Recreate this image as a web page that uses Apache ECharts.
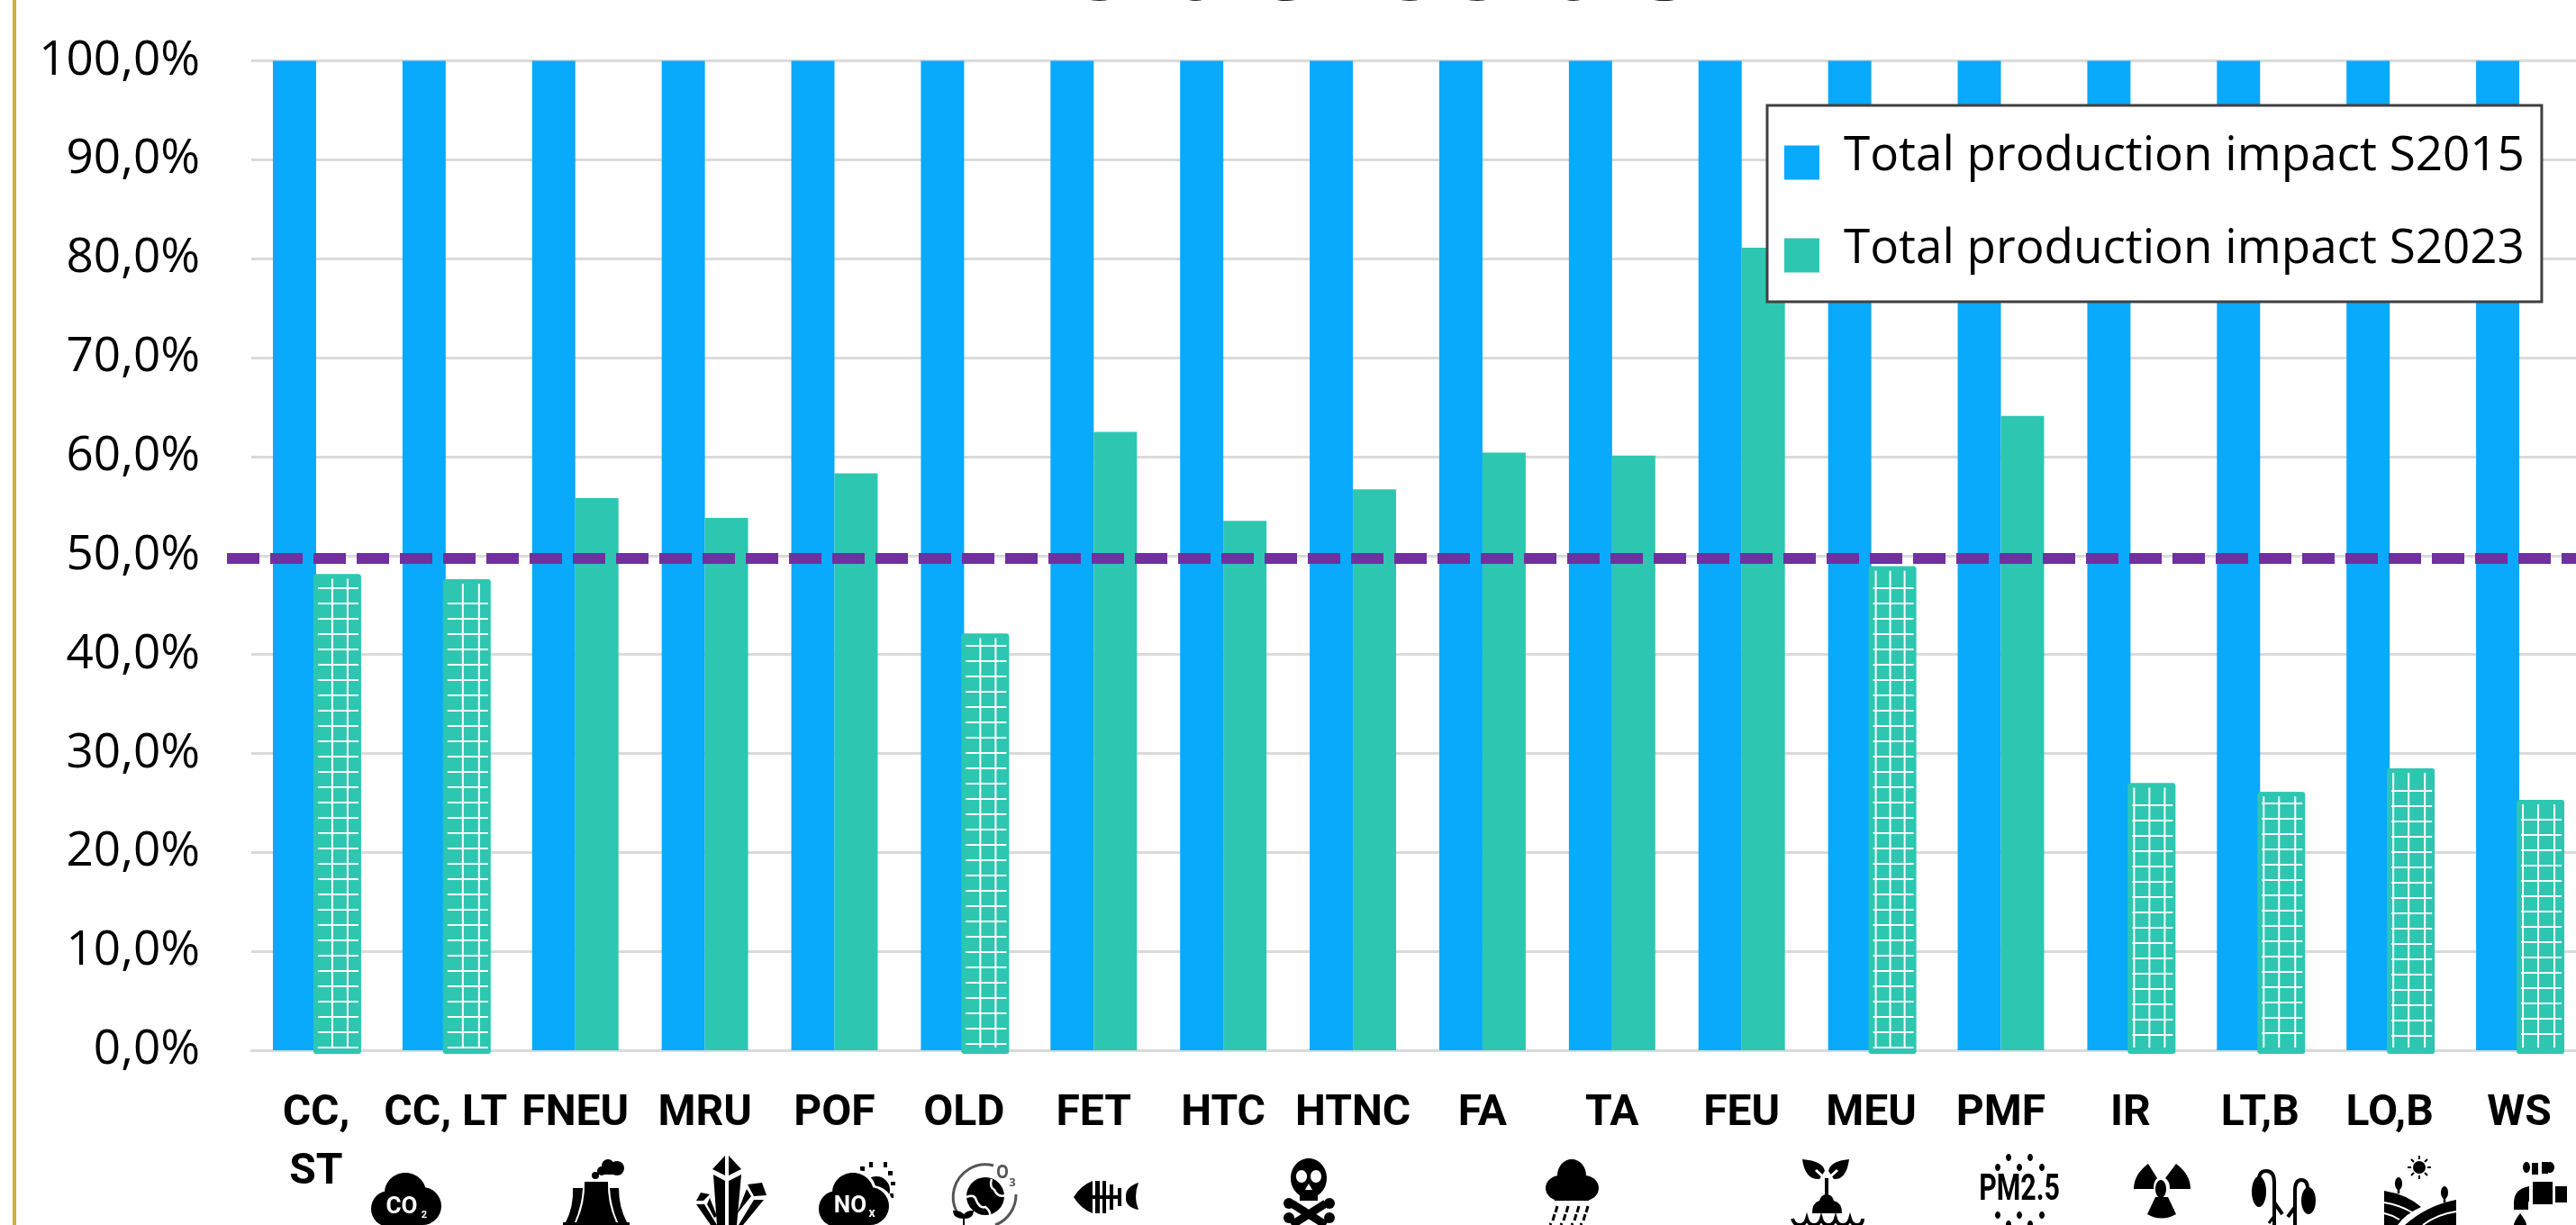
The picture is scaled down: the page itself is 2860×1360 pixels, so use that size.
<!DOCTYPE html>
<html>
<head>
<meta charset="utf-8">
<style>
  html, body { margin: 0; padding: 0; background: #fff; overflow: hidden; }
  #chart { width: 2860px; height: 1360px; }
</style>
<script src="https://cdn.jsdelivr.net/npm/echarts@6/dist/echarts.min.js"></script>
</head>
<body>
<div id="chart"></div>
<script>
const categories = ['CC,\nST', 'CC, LT', 'FNEU', 'MRU', 'POF', 'OLD', 'FET', 'HTC', 'HTNC', 'FA', 'TA', 'FEU', 'MEU', 'PMF', 'IR', 'LT,B', 'LO,B', 'WS'];
const impact2015 = [100, 100, 100, 100, 100, 100, 100, 100, 100, 100, 100, 100, 100, 100, 100, 100, 100, 100];
const impact2023 = [48.1, 47.6, 55.8, 53.8, 58.3, 42.1, 62.5, 53.5, 56.7, 60.4, 60.1, 81.1, 48.9, 64.1, 27, 26.1, 28.5, 25.3];
const threshold = 49.7;

const BLUE = '#09A9FB';
const GREEN = '#2DC7B1';
const PURPLE = '#7030A0';
const GRID = '#DADADA';
const LABEL_FONT = '"Open Sans", "Noto Sans", sans-serif';
const NARROW_FONT = 'Roboto, sans-serif';

// white grid on the bars that passed the 50% target, it differs a bit per bar
const hatchCols = { 0: [-7, 10], 1: [-6, 12], 5: [-7, 10], 12: [-20, -4, 12], 14: [-21, -4, 13], 15: [-21, -4, 14], 16: [-21, -4, 14], 17: [-21, -4, 14] };
const hatchBase = { 0: 3, 1: 3, 5: 7, 12: 3, 14: 17, 15: 19, 16: 16, 17: 18 };

function renderHatch(params, api) {
  const idx = api.value(0);
  const top = api.coord([idx, api.value(1)]);
  const zero = api.coord([idx, 0]);
  const band = api.size([1, 0])[0];
  const cx = top[0] + band / 6;
  const children = [{
    type: 'rect',
    shape: { x: cx - 27, y: top[1], width: 53, height: zero[1] - top[1] + 4, r: 3 },
    style: { fill: GREEN }
  }];
  const bottom = zero[1] - 3;
  (hatchCols[idx] || []).forEach((dx) => {
    children.push({
      type: 'rect',
      shape: { x: cx + dx, y: top[1] + 5, width: 2, height: bottom - top[1] - 5 },
      style: { fill: '#fff' }
    });
  });
  for (let y = zero[1] - hatchBase[idx]; y > top[1] + 12; y -= 17) {
    children.push({
      type: 'rect',
      shape: { x: cx - 22, y: y - 1, width: 45, height: 2 },
      style: { fill: '#fff' }
    });
  }
  return { type: 'group', children };
}

function renderThreshold(params, api) {
  const y = api.coord([0, api.value(0)])[1];
  return {
    type: 'line',
    shape: { x1: 252, y1: y, x2: 2860, y2: y },
    style: { stroke: PURPLE, lineWidth: 12, lineDash: [36, 12], lineCap: 'butt' }
  };
}

// small shape helpers for the icon row under the axis
const K = '#000';
const W = '#fff';
let pathCount = 0;
function circ(x, y, r, fill) { return { type: 'circle', shape: { cx: x, cy: y, r }, style: { fill: fill || K } }; }
function oval(x, y, rx, ry, fill) { return { type: 'ellipse', shape: { cx: x, cy: y, rx, ry }, style: { fill: fill || K } }; }
function box(x, y, w, h, fill) { return { type: 'rect', shape: { x, y, width: w, height: h }, style: { fill: fill || K } }; }
function poly(points, fill) { return { type: 'polygon', shape: { points }, style: { fill: fill || K } }; }
function line(points, width, color) { return { type: 'polyline', shape: { points }, style: { stroke: color || K, lineWidth: width, fill: null } }; }
function svg(d, fill, stroke, width) {
  // the graphic component has no plain path type, so each one gets registered
  const name = 'iconPath' + pathCount++;
  echarts.graphic.registerShape(name, echarts.graphic.extendPath(d, {}));
  return { type: name, style: { fill: fill === 'none' ? null : fill, stroke: stroke || null, lineWidth: width || 0 } };
}
function word(text, x, y, size, color, font, squeeze) {
  return { type: 'text', x, y, scaleX: squeeze || 1, style: { text, fill: color || W, font: 'bold ' + size + 'px ' + (font || NARROW_FONT), align: 'center', verticalAlign: 'middle' } };
}
function cloud(dx) {
  return [oval(450 + dx, 1324, 23, 22), circ(432 + dx, 1342, 20), circ(469 + dx, 1339, 21), box(430 + dx, 1340, 40, 20)];
}

const icons = [
  // CO2
  ...cloud(0), word('CO', 446, 1340, 26), word('2', 471, 1349, 11),
  // cooling tower
  circ(675, 1294, 7), circ(685, 1297, 8), circ(668, 1300, 5), circ(661, 1305, 4), box(664, 1298, 18, 6),
  svg('M649 1312 L675 1312 Q674 1335 684 1357 L640 1357 Q650 1335 649 1312 Z', K),
  svg('M636 1319 L647 1319 Q646 1338 638 1357 L628 1357 Q637 1340 636 1319 Z', K),
  svg('M677 1319 L687 1319 Q687 1340 696 1357 L686 1357 Q678 1338 677 1319 Z', K),
  box(625, 1357, 74, 3),
  // minerals
  poly([[805, 1283], [791, 1298], [805, 1305]]), poly([[809, 1283], [823, 1298], [809, 1305]]),
  poly([[792, 1304], [805, 1311], [805, 1360], [796, 1360]]), poly([[823, 1304], [809, 1311], [809, 1360], [818, 1360]]),
  poly([[830, 1315], [846, 1313], [851, 1327], [837, 1328]]), poly([[829, 1320], [834, 1328], [818, 1348]]),
  poly([[837, 1332], [848, 1332], [825, 1360], [820, 1360]]),
  poly([[778, 1324], [788, 1326], [781, 1333], [773, 1333]]), poly([[773, 1337], [782, 1337], [796, 1360], [789, 1360]]),
  poly([[788, 1330], [796, 1350], [793, 1352], [785, 1337]]),
  // NOx with the sun behind
  circ(973, 1321, 15), box(955, 1295, 5, 5), box(965, 1290, 4, 6), box(981, 1290, 4, 6), box(986, 1300, 5, 5), box(989, 1312, 5, 4), box(988, 1325, 4, 5),
  oval(947, 1324, 26, 26, W), circ(968, 1340, 24, W),
  ...cloud(497), word('NO', 944, 1339, 26), word('x', 968, 1347, 14),
  // ozone globe
  svg('M1103 1294 A36 36 0 0 0 1062 1345', 'none', '#555', 3), svg('M1128 1326 A36 36 0 0 1 1105 1360', 'none', '#555', 3),
  circ(1094, 1328, 21),
  svg('M1073 1329 Q1082 1325 1084 1333 Q1088 1342 1094 1340 Q1100 1345 1099 1349', 'none', W, 2.5),
  svg('M1101 1309 Q1098 1318 1104 1321 Q1108 1330 1116 1327', 'none', W, 2.5),
  word('O', 1113, 1302, 22, '#555', LABEL_FONT, 0.8), word('3', 1124, 1313, 13, '#555', LABEL_FONT),
  svg('M1070 1360 L1070 1352 Q1060 1352 1059 1345 Q1068 1345 1070 1350 Q1073 1345 1080 1345 Q1079 1352 1071 1352', K, K, 2),
  // dead fish
  svg('M1192 1329 Q1200 1316 1213 1311 L1213 1347 Q1200 1342 1192 1329 Z', K),
  box(1213, 1327, 32, 4), box(1216, 1311, 5, 36), box(1224, 1311, 4, 36), box(1232, 1315, 4, 28), box(1241, 1319, 4, 20),
  svg('M1264 1313 Q1249 1318 1250 1329 Q1249 1340 1264 1343 Q1258 1329 1264 1313 Z', K),
  // skull
  oval(1453, 1308, 20, 22), box(1443, 1322, 20, 11), oval(1445, 1306, 6, 7, W), oval(1461, 1306, 6, 7, W), poly([[1453, 1314], [1449, 1321], [1457, 1321]], W),
  line([[1434, 1336], [1472, 1360]], 9), line([[1472, 1336], [1434, 1360]], 9),
  circ(1431, 1336, 6), circ(1476, 1336, 6), circ(1431, 1352, 6), circ(1476, 1352, 6),
  // rain cloud
  oval(1745, 1305, 16, 18), oval(1732, 1319, 16, 14), oval(1759, 1319, 16, 14), box(1726, 1319, 38, 14),
  ...[1728, 1740, 1752, 1762].map((x) => line([[x + 1, 1339], [x - 1, 1346]], 3)),
  ...[1725, 1737, 1749, 1759].map((x) => line([[x + 1, 1348], [x - 1, 1355]], 3)),
  ...[1722, 1734, 1746, 1756].map((x) => line([[x, 1358], [x - 1, 1360]], 3)),
  // sprout over water
  svg('M2001 1287 Q2024 1289 2026 1300 L2020 1309 Q2004 1310 2001 1287 Z', K),
  svg('M2053 1287 Q2032 1289 2030 1300 L2036 1309 Q2050 1310 2053 1287 Z', K),
  line([[2016, 1299], [2028, 1310], [2040, 1299]], 3, W), line([[2028, 1308], [2028, 1330]], 4),
  svg('M2012 1347 Q2012 1335 2020 1333 Q2022 1326 2028 1326 Q2034 1326 2036 1333 Q2045 1335 2045 1347 Z', K),
  svg('M1990 1353 Q1992 1360 1998 1360 Q2004 1360 2006 1353 Q2008 1360 2014 1360 Q2020 1360 2022 1353 Q2024 1360 2030 1360 Q2036 1360 2038 1353 Q2040 1360 2046 1360 Q2052 1360 2054 1353 Q2056 1360 2062 1360 Q2068 1360 2068 1353', 'none', K, 4),
  // PM2.5
  word('PM2.5', 2242, 1322, 41, K, NARROW_FONT, 0.74),
  ...[[2230, 1285], [2254, 1285], [2218, 1296], [2242, 1296], [2267, 1296], [2218, 1349], [2242, 1349], [2267, 1349], [2230, 1359], [2254, 1359]].map((p) => oval(p[0], p[1], 3, 4)),
  // radiation
  oval(2399, 1320, 6, 10),
  svg('M2385 1292 Q2369 1304 2369 1320 L2391 1320 Q2391 1311 2395 1308 Z', K),
  svg('M2416 1292 Q2432 1304 2432 1320 L2409 1320 Q2409 1311 2404 1308 Z', K),
  svg('M2393 1329 L2407 1329 L2416 1348 Q2400 1357 2384 1348 Z', K),
  // wilting plants
  svg('M2525 1360 L2525 1313 Q2525 1300 2516 1300 Q2508 1300 2508 1310', 'none', K, 4),
  oval(2508, 1323, 8, 17),
  svg('M2548 1360 L2548 1322 Q2548 1310 2555 1310 Q2562 1310 2562 1320', 'none', K, 4),
  oval(2563, 1333, 8, 15),
  line([[2525, 1335], [2534, 1348]], 4), line([[2548, 1340], [2540, 1351]], 4), line([[2525, 1350], [2519, 1358]], 3),
  // field with a sun
  circ(2686, 1296, 7), ...[[2686, 1283, 2686, 1287], [2686, 1305, 2686, 1309], [2673, 1296, 2677, 1296], [2695, 1296, 2699, 1296], [2677, 1287, 2680, 1290], [2695, 1287, 2692, 1290], [2677, 1305, 2680, 1302], [2695, 1305, 2692, 1302]].map((r) => line([[r[0], r[1]], [r[2], r[3]]], 2)),
  oval(2663, 1314, 4, 7), line([[2663, 1312], [2663, 1325]], 2.5), oval(2714, 1324, 4, 7), line([[2714, 1322], [2714, 1335]], 2.5),
  svg('M2647 1322 Q2672 1326 2688 1340 Q2670 1348 2662 1360 L2647 1360 Z', K),
  svg('M2727 1332 Q2695 1338 2670 1360 L2727 1360 Z', K),
  svg('M2647 1335 Q2665 1338 2678 1346', 'none', W, 2), svg('M2647 1347 Q2656 1349 2664 1354', 'none', W, 2),
  svg('M2727 1345 Q2706 1348 2690 1360', 'none', W, 2),
  // water tap
  oval(2805, 1296, 4, 6), box(2811, 1291, 7, 13), box(2822, 1290, 7, 13), oval(2831, 1296, 5, 6),
  box(2812, 1312, 22, 25), box(2837, 1317, 13, 18),
  svg('M2808 1317 Q2791 1320 2791 1335 L2791 1343 L2807 1343 L2807 1334 L2808 1334 Z', K),
  svg('M2798 1347 Q2791 1356 2791 1360 L2805 1360 Q2805 1356 2798 1347 Z', K)
];

const chart = echarts.init(document.getElementById('chart'));

chart.setOption({
  animation: false,
  backgroundColor: '#fff',
  title: {
    text: 'S2015 VS S2023',
    left: 1533,
    top: -77,
    textAlign: 'center',
    textStyle: { fontFamily: LABEL_FONT, fontWeight: 'bold', fontSize: 92, color: '#222' }
  },
  legend: {
    data: ['Total production impact S2015', 'Total production impact S2023'],
    orient: 'vertical',
    left: 1962,
    top: 117,
    padding: [30, 19, 32, 19],
    itemWidth: 39,
    itemHeight: 52,
    itemGap: 50,
    // empty first subpath keeps the swatch in the lower part, it sits below the text centre
    icon: 'path://M0 0L39 0L39 0Z M0 14L39 14L39 52L0 52Z',
    backgroundColor: '#fff',
    borderColor: '#404040',
    borderWidth: 3,
    borderRadius: 0,
    textStyle: { fontFamily: LABEL_FONT, fontSize: 53, color: '#000', padding: [0, 0, 0, 22] }
  },
  // the plot runs a little past the right edge of the page
  grid: { left: 279, top: 67.5, width: 2590, height: 1098.5, containLabel: false, outerBoundsMode: 'none' },
  xAxis: {
    type: 'category',
    data: categories,
    axisTick: { show: false },
    axisLine: { lineStyle: { color: GRID, width: 3 } },
    axisLabel: {
      interval: 0,
      margin: 38,
      lineHeight: 65,
      color: '#000',
      fontFamily: NARROW_FONT,
      fontWeight: 'bold',
      fontSize: 48,
      verticalAlign: 'top'
    }
  },
  yAxis: {
    type: 'value',
    min: 0,
    max: 100,
    interval: 10,
    axisLine: { show: false },
    axisTick: { show: false },
    splitLine: { lineStyle: { color: GRID, width: 3 } },
    axisLabel: {
      margin: 57,
      color: '#000',
      fontFamily: LABEL_FONT,
      fontSize: 53,
      formatter: (v) => v.toFixed(1).replace('.', ',') + '%'
    }
  },
  series: [
    {
      name: 'Total production impact S2015',
      type: 'bar',
      data: impact2015,
      barWidth: '33.33%',
      barGap: 0,
      itemStyle: { color: BLUE }
    },
    {
      name: 'Total production impact S2023',
      type: 'bar',
      data: impact2023,
      barWidth: '33.33%',
      itemStyle: { color: GREEN }
    },
    {
      type: 'custom',
      renderItem: renderHatch,
      data: impact2023.map((v, i) => [i, v]).filter((d) => d[1] < 50),
      encode: { x: 0, y: 1 },
      clip: false,
      z: 3
    },
    {
      type: 'custom',
      renderItem: renderThreshold,
      data: [[threshold]],
      encode: { y: 0 },
      clip: false,
      z: 4
    }
  ],
  graphic: [
    { type: 'rect', shape: { x: 14, y: 0, width: 4, height: 1360 }, style: { fill: '#C9B037' } },
    { type: 'group', silent: true, children: icons }
  ]
});
</script>
</body>
</html>
